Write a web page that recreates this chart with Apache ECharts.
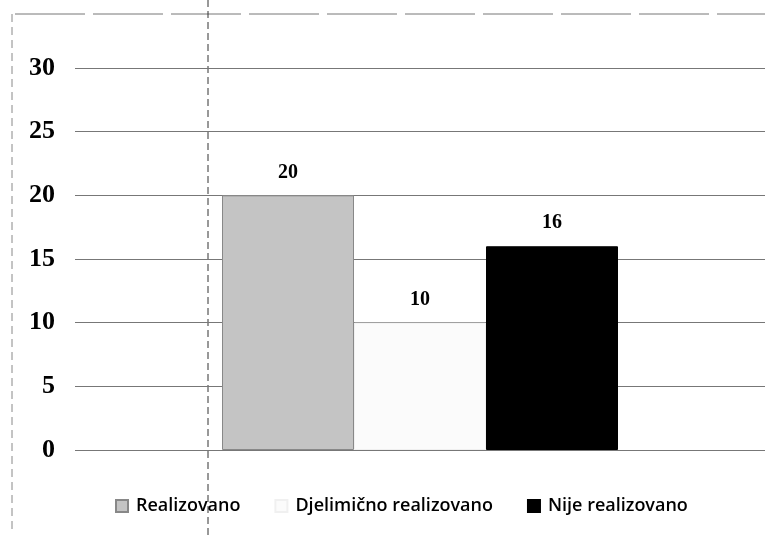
<!DOCTYPE html>
<html><head><meta charset="utf-8">
<script src="https://cdn.jsdelivr.net/npm/echarts@6/dist/echarts.min.js"></script>
<style>html,body{margin:0;padding:0;background:#fff}#c{width:778px;height:537px}</style>
</head><body><div id="c"></div>
<script>
var categories = [''];
var seriesNames = ['Realizovano', 'Djelimično realizovano', 'Nije realizovano'];
var realizovano = [20];
var djelimicno = [10];
var nije = [16];
var yTicks = [0, 5, 10, 15, 20, 25, 30];

var colors = ['#c4c4c4', '#fbfbfb', '#000000'];
var values = [realizovano, djelimicno, nije];
var chart = echarts.init(document.getElementById('c'));
chart.setOption({
  animation: false,
  grid: {left: 75, right: 13, top: 68, bottom: 87},
  xAxis: {type: 'category', data: categories, axisLine: {show: false}, axisTick: {show: false}, axisLabel: {show: false}},
  yAxis: {type: 'value', min: yTicks[0], max: yTicks[yTicks.length - 1], interval: 5,
    axisLine: {show: false}, axisTick: {show: false},
    axisLabel: {margin: 20, color: '#000', fontFamily: 'Liberation Serif', fontWeight: 'bold', fontSize: 26},
    splitLine: {lineStyle: {color: '#777', width: 1}}},
  legend: {bottom: 17, left: 110, icon: 'rect', itemWidth: 12, itemHeight: 12, itemGap: 34,
    textStyle: {fontFamily: 'Open Sans', fontWeight: 600, fontSize: 18, color: '#000', padding: [0, 0, 0, 3]},
    data: seriesNames},
  series: seriesNames.map(function (n, i) {
    return {name: n, type: 'bar', data: values[i], barWidth: 132, barGap: '0%',
      itemStyle: {color: colors[i], borderColor: i === 0 ? '#888' : (i === 1 ? '#f0f0f0' : '#000'), borderWidth: 1},
      label: {show: true, position: 'top', distance: 13, color: '#000', fontFamily: 'Liberation Serif', fontWeight: 'bold', fontSize: 20}};
  }),
  graphic: [
    {type: 'line', shape: {x1: 15, y1: 14, x2: 765, y2: 14}, style: {stroke: '#777', lineWidth: 1, lineDash: [70, 8]}},
    {type: 'line', shape: {x1: 12, y1: 14, x2: 12, y2: 530}, style: {stroke: '#888', lineWidth: 1, lineDash: [8, 5]}},
    {type: 'line', shape: {x1: 208, y1: 0, x2: 208, y2: 537}, style: {stroke: '#333', lineWidth: 1, lineDash: [7, 4]}}
  ]
});
</script></body></html>
